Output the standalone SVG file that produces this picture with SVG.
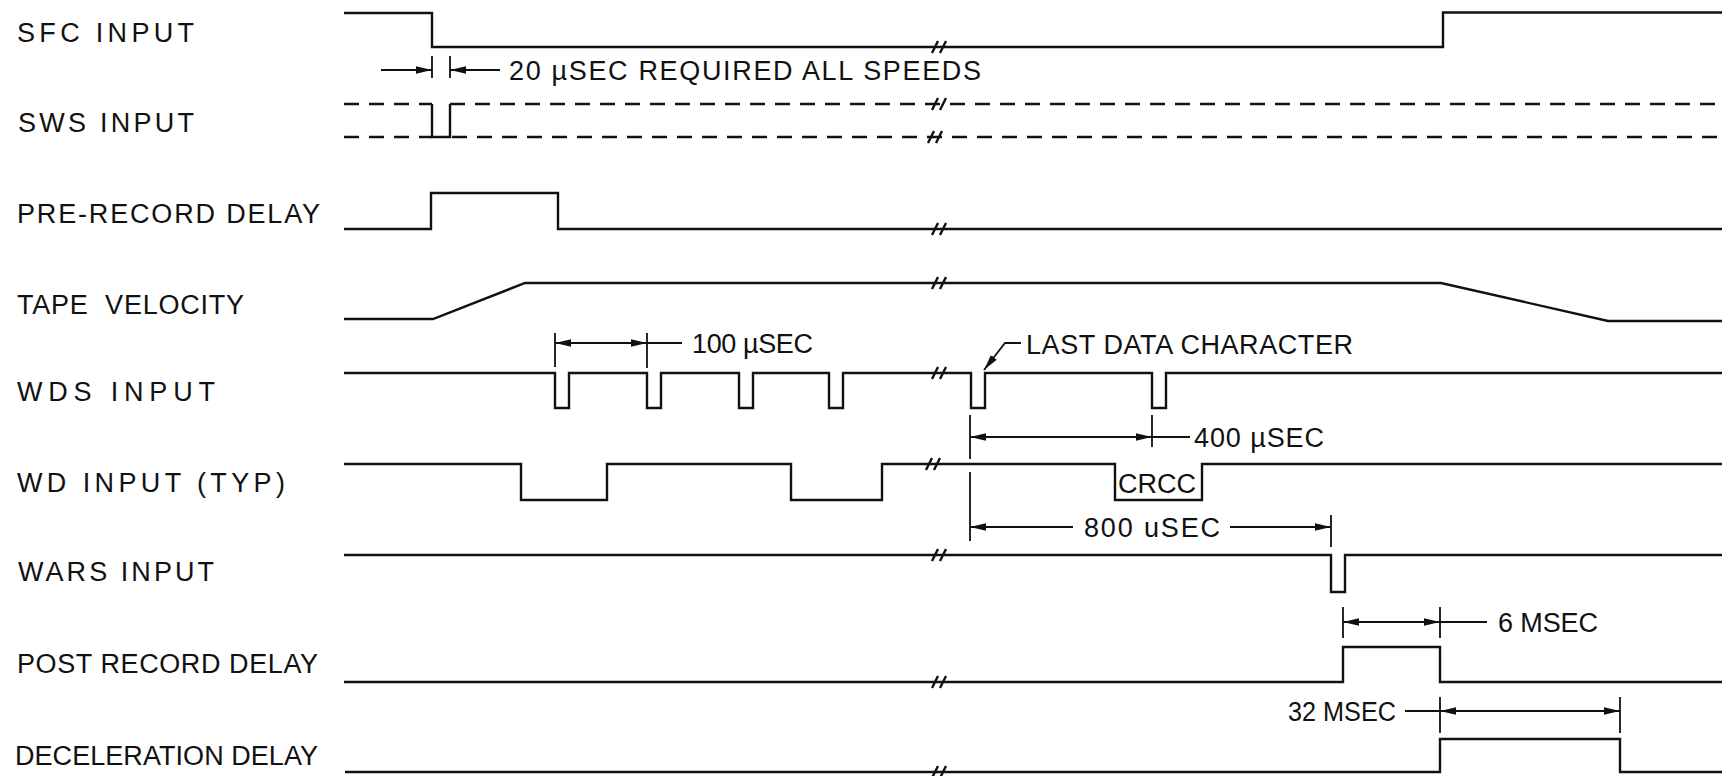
<svg xmlns="http://www.w3.org/2000/svg" width="1731" height="776" viewBox="0 0 1731 776">
<style>
.sig{fill:none;stroke:#111;stroke-width:2.4;stroke-linejoin:miter}
.dash{fill:none;stroke:#111;stroke-width:2.4;stroke-dasharray:15 10}
.brk{fill:none;stroke:#111;stroke-width:2.4}
.dim{fill:none;stroke:#111;stroke-width:1.8}
.lbl{font-family:"Liberation Sans",Arial,sans-serif;font-size:27px;fill:#111;white-space:pre}
</style>
<defs>
<marker id="ah" viewBox="0 0 16 9" refX="16" refY="4.5" markerWidth="16" markerHeight="9" markerUnits="userSpaceOnUse" orient="auto-start-reverse">
<path d="M0,0.8 L16,4.5 L0,8.2 z" fill="#111"/>
</marker>
<path id="bk" d="M-7,6 L-1,-6 M1,6 L7,-6"/>
</defs>
<rect width="1731" height="776" fill="#fff"/>

<g id="sfc">
<text class="lbl" x="17" y="42" textLength="177">SFC INPUT</text>
<path class="sig" d="M344,13 H432 V47 H1443 V12.5 H1722"/>
<use href="#bk" class="brk" x="939" y="47"/>
</g>

<g id="sws">
<text class="lbl" x="18" y="132" textLength="176">SWS INPUT</text>
<path class="dash" d="M344,104 H432 M450,104 H1722"/>
<path class="dash" d="M344,137 H432 M452,137 H1722"/>
<path class="sig" d="M432,104 V137 H450 V104"/>
<use href="#bk" class="brk" x="939" y="104"/>
<use href="#bk" class="brk" x="935" y="137"/>
</g>

<g id="prerecord">
<text class="lbl" x="17" y="223" textLength="303">PRE-RECORD DELAY</text>
<path class="sig" d="M344,229 H431 V193 H558 V229 H1722"/>
<use href="#bk" class="brk" x="939" y="229"/>
</g>

<g id="tape">
<text class="lbl" x="17" y="314" textLength="227">TAPE  VELOCITY</text>
<path class="sig" d="M344,319 H433 L525,283 H1441 L1608,321 H1722"/>
<use href="#bk" class="brk" x="939" y="283"/>
</g>

<g id="wds">
<text class="lbl" x="17" y="401" textLength="198">WDS INPUT</text>
<path class="sig" d="M344,373 H555 V408 H569 V373 H647 V408 H661 V373 H739 V408 H753 V373 H829 V408 H843 V373 H971 V408 H985 V373 H1152 V408 H1166 V373 H1722"/>
<use href="#bk" class="brk" x="939" y="373"/>
</g>

<g id="wd">
<text class="lbl" x="17" y="492" textLength="268">WD INPUT (TYP)</text>
<path class="sig" d="M344,464 H521 V500 H607 V464 H791 V500 H882 V464 H1115 V500 H1202 V464 H1722"/>
<use href="#bk" class="brk" x="933" y="464"/>
<text class="lbl" x="1118" y="493" textLength="78">CRCC</text>
</g>

<g id="wars">
<text class="lbl" x="18" y="581" textLength="196">WARS INPUT</text>
<path class="sig" d="M344,555 H1331 V592 H1345 V555 H1722"/>
<use href="#bk" class="brk" x="939" y="555"/>
</g>

<g id="postrecord">
<text class="lbl" x="17" y="673" textLength="301">POST RECORD DELAY</text>
<path class="sig" d="M344,682 H1343 V647 H1440 V682 H1722"/>
<use href="#bk" class="brk" x="939" y="682"/>
</g>

<g id="decel">
<text class="lbl" x="15" y="765" textLength="303">DECELERATION DELAY</text>
<path class="sig" d="M345,772 H1440 V739 H1620 V772 H1722"/>
<use href="#bk" class="brk" x="939" y="772"/>
</g>

<g id="connectors">
<!-- 20 usec -->
<path class="dim" d="M432,56 V78 M450,56 V78"/>
<path class="dim" d="M381,70 H432" marker-end="url(#ah)"/>
<path class="dim" d="M500,70 H450" marker-end="url(#ah)"/>
<text class="lbl" x="509" y="80" textLength="472">20 µSEC REQUIRED ALL SPEEDS</text>
<!-- 100 usec -->
<path class="dim" d="M555,333 V367 M647,333 V368"/>
<path class="dim" d="M555,343 H647" marker-start="url(#ah)" marker-end="url(#ah)"/>
<path class="dim" d="M647,343 H682"/>
<text class="lbl" x="692" y="353" textLength="121">100 µSEC</text>
<!-- last data character -->
<path class="dim" d="M1021,343 H1005 L984,370" marker-end="url(#ah)"/>
<text class="lbl" x="1026" y="354" textLength="327">LAST DATA CHARACTER</text>
<!-- 400 usec -->
<path class="dim" d="M970,415 V459 M1152,415 V447"/>
<path class="dim" d="M970,437 H1152" marker-start="url(#ah)" marker-end="url(#ah)"/>
<path class="dim" d="M1152,437 H1190"/>
<text class="lbl" x="1194" y="447" textLength="130">400 µSEC</text>
<!-- 800 usec -->
<path class="dim" d="M970,472 V541 M1331,515 V547"/>
<path class="dim" d="M1073,527 H970" marker-end="url(#ah)"/>
<path class="dim" d="M1230,527 H1331" marker-end="url(#ah)"/>
<text class="lbl" x="1084" y="537" textLength="136">800 uSEC</text>
<!-- 6 msec -->
<path class="dim" d="M1343,607 V638 M1440,607 V638"/>
<path class="dim" d="M1343,622 H1440" marker-start="url(#ah)" marker-end="url(#ah)"/>
<path class="dim" d="M1440,622 H1487"/>
<text class="lbl" x="1498" y="632" textLength="100">6 MSEC</text>
<!-- 32 msec -->
<path class="dim" d="M1440,697 V733 M1620,697 V733"/>
<path class="dim" d="M1405,711 H1440"/>
<path class="dim" d="M1440,711 H1620" marker-start="url(#ah)" marker-end="url(#ah)"/>
<text class="lbl" x="1288" y="721" textLength="108" lengthAdjust="spacingAndGlyphs">32 MSEC</text>
</g>
</svg>
